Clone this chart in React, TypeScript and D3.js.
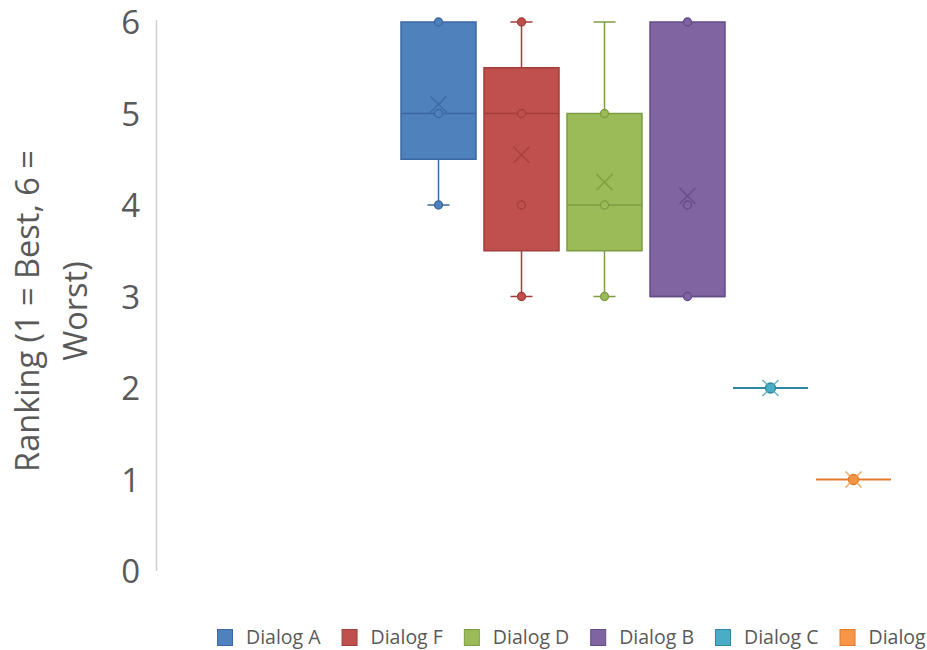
import React, { useEffect, useRef } from 'react';
import * as d3 from 'd3';

const W = 927;
const H = 650;

// Series in drawing order
const dialogs = ['Dialog A', 'Dialog F', 'Dialog D', 'Dialog B', 'Dialog C', 'Dialog E'];
const fills = ['#4f81bd', '#c0504d', '#9bbb59', '#8064a2', '#4bacc6', '#f79646'];
const edges = ['#3b68a1', '#a13e3b', '#7d9c42', '#634c86', '#2f879d', '#df7a2c'];

// Five-number summaries and means of the rankings (1 = best, 6 = worst)
const mins = [4, 3, 3, 3, 2, 1];
const q1s = [4.5, 3.5, 3.5, 3, 2, 1];
const medians = [5, 5, 4, 3, 2, 1];
const q3s = [6, 5.5, 5, 6, 2, 1];
const maxs = [6, 6, 6, 6, 2, 1];
const means = [5.1, 4.55, 4.25, 4.1, 2, 1];
// Individual data points shown on each box
const points = [[6, 5, 4], [6, 5, 4, 3], [5, 4, 3], [6, 4, 3], [2], [1]];

const yTicks = [0, 1, 2, 3, 4, 5, 6];
const titleLines = ['Ranking (1 = Best, 6 =', 'Worst)'];

const FONT = "'Open Sans', 'DejaVu Sans', sans-serif";

export default function App() {
  const ref = useRef<SVGSVGElement | null>(null);

  useEffect(() => {
    const svg = d3.select(ref.current);
    svg.selectAll('*').remove();

    const y = d3.scaleLinear().domain([0, 6]).range([571, 22]);
    const x = d3
      .scaleBand<string>()
      .domain(dialogs)
      .range([397, 895])
      .paddingInner(8 / 83)
      .paddingOuter(4 / 83);
    const bw = x.bandwidth();

    // Value axis line
    svg
      .append('line')
      .attr('x1', 156.5)
      .attr('x2', 156.5)
      .attr('y1', y(6) - 2)
      .attr('y2', y(0))
      .attr('stroke', '#d0d0d0')
      .attr('stroke-width', 1.5);

    // Tick labels
    svg
      .append('g')
      .selectAll('text')
      .data(yTicks)
      .join('text')
      .attr('x', 140)
      .attr('y', (d) => y(d))
      .attr('dy', '0.37em')
      .attr('text-anchor', 'end')
      .attr('font-family', FONT)
      .attr('font-size', 33)
      .attr('fill', '#595959')
      .text((d) => String(d));

    // Axis title
    const title = svg
      .append('text')
      .attr('transform', 'translate(0,311) rotate(-90)')
      .attr('text-anchor', 'middle')
      .attr('font-family', FONT)
      .attr('font-size', 32.5)
      .attr('fill', '#595959');
    titleLines.forEach((t, i) => {
      title
        .append('tspan')
        .attr('x', 0)
        .attr('y', 39 + i * 48)
        .text(t);
    });

    // Boxes
    const g = svg.append('g');
    dialogs.forEach((name, i) => {
      const x0 = x(name)!;
      const cx = x0 + bw / 2;
      const edge = edges[i];
      const s = g.append('g');

      // whiskers
      if (mins[i] < q1s[i]) {
        s.append('line')
          .attr('x1', cx).attr('x2', cx)
          .attr('y1', y(q1s[i])).attr('y2', y(mins[i]))
          .attr('stroke', edge).attr('stroke-width', 1.5);
        s.append('line')
          .attr('x1', cx - 11).attr('x2', cx + 11)
          .attr('y1', y(mins[i])).attr('y2', y(mins[i]))
          .attr('stroke', edge).attr('stroke-width', 1.5);
      }
      if (maxs[i] > q3s[i]) {
        s.append('line')
          .attr('x1', cx).attr('x2', cx)
          .attr('y1', y(q3s[i])).attr('y2', y(maxs[i]))
          .attr('stroke', edge).attr('stroke-width', 1.5);
        s.append('line')
          .attr('x1', cx - 11).attr('x2', cx + 11)
          .attr('y1', y(maxs[i])).attr('y2', y(maxs[i]))
          .attr('stroke', edge).attr('stroke-width', 1.5);
      }

      // box
      if (q3s[i] > q1s[i]) {
        s.append('rect')
          .attr('x', x0)
          .attr('y', y(q3s[i]))
          .attr('width', bw)
          .attr('height', y(q1s[i]) - y(q3s[i]))
          .attr('fill', fills[i])
          .attr('stroke', edge)
          .attr('stroke-width', 1.5);
      }
      // median
      s.append('line')
        .attr('x1', x0).attr('x2', x0 + bw)
        .attr('y1', y(medians[i])).attr('y2', y(medians[i]))
        .attr('stroke', edge).attr('stroke-width', q3s[i] > q1s[i] ? 1.5 : 2);

      // data points
      s.selectAll('circle')
        .data(points[i])
        .join('circle')
        .attr('cx', cx)
        .attr('cy', (d) => y(d))
        .attr('r', q3s[i] > q1s[i] ? 4 : 5)
        .attr('fill', fills[i])
        .attr('stroke', edge)
        .attr('stroke-width', 1.3);

      // mean marker
      const my = y(means[i]);
      const h = 8;
      const xColor = q3s[i] > q1s[i] ? edge : fills[i];
      s.append('path')
        .attr('d', `M${cx - h},${my - h}L${cx + h},${my + h}M${cx - h},${my + h}L${cx + h},${my - h}`)
        .attr('stroke', xColor)
        .attr('stroke-width', 1.5)
        .attr('opacity', 0.85)
        .attr('fill', 'none');
    });

    // Legend
    const legend = svg.append('g');
    let lx = 217;
    dialogs.forEach((name, i) => {
      legend
        .append('rect')
        .attr('x', lx + 0.5)
        .attr('y', 629.5)
        .attr('width', 15)
        .attr('height', 16)
        .attr('fill', fills[i])
        .attr('stroke', edges[i])
        .attr('stroke-width', 1);
      const t = legend
        .append('text')
        .attr('x', lx + 29)
        .attr('y', 644)
        .attr('font-family', FONT)
        .attr('font-size', 19.5)
        .attr('fill', '#595959')
        .text(name);
      const tw = (t.node() as SVGTextElement).getComputedTextLength();
      lx = lx + 29 + tw + 21;
    });
  }, []);

  return (
    <svg
      ref={ref}
      width={W}
      height={H}
      style={{ position: 'absolute', left: 0, top: 0, background: '#ffffff' }}
    />
  );
}
